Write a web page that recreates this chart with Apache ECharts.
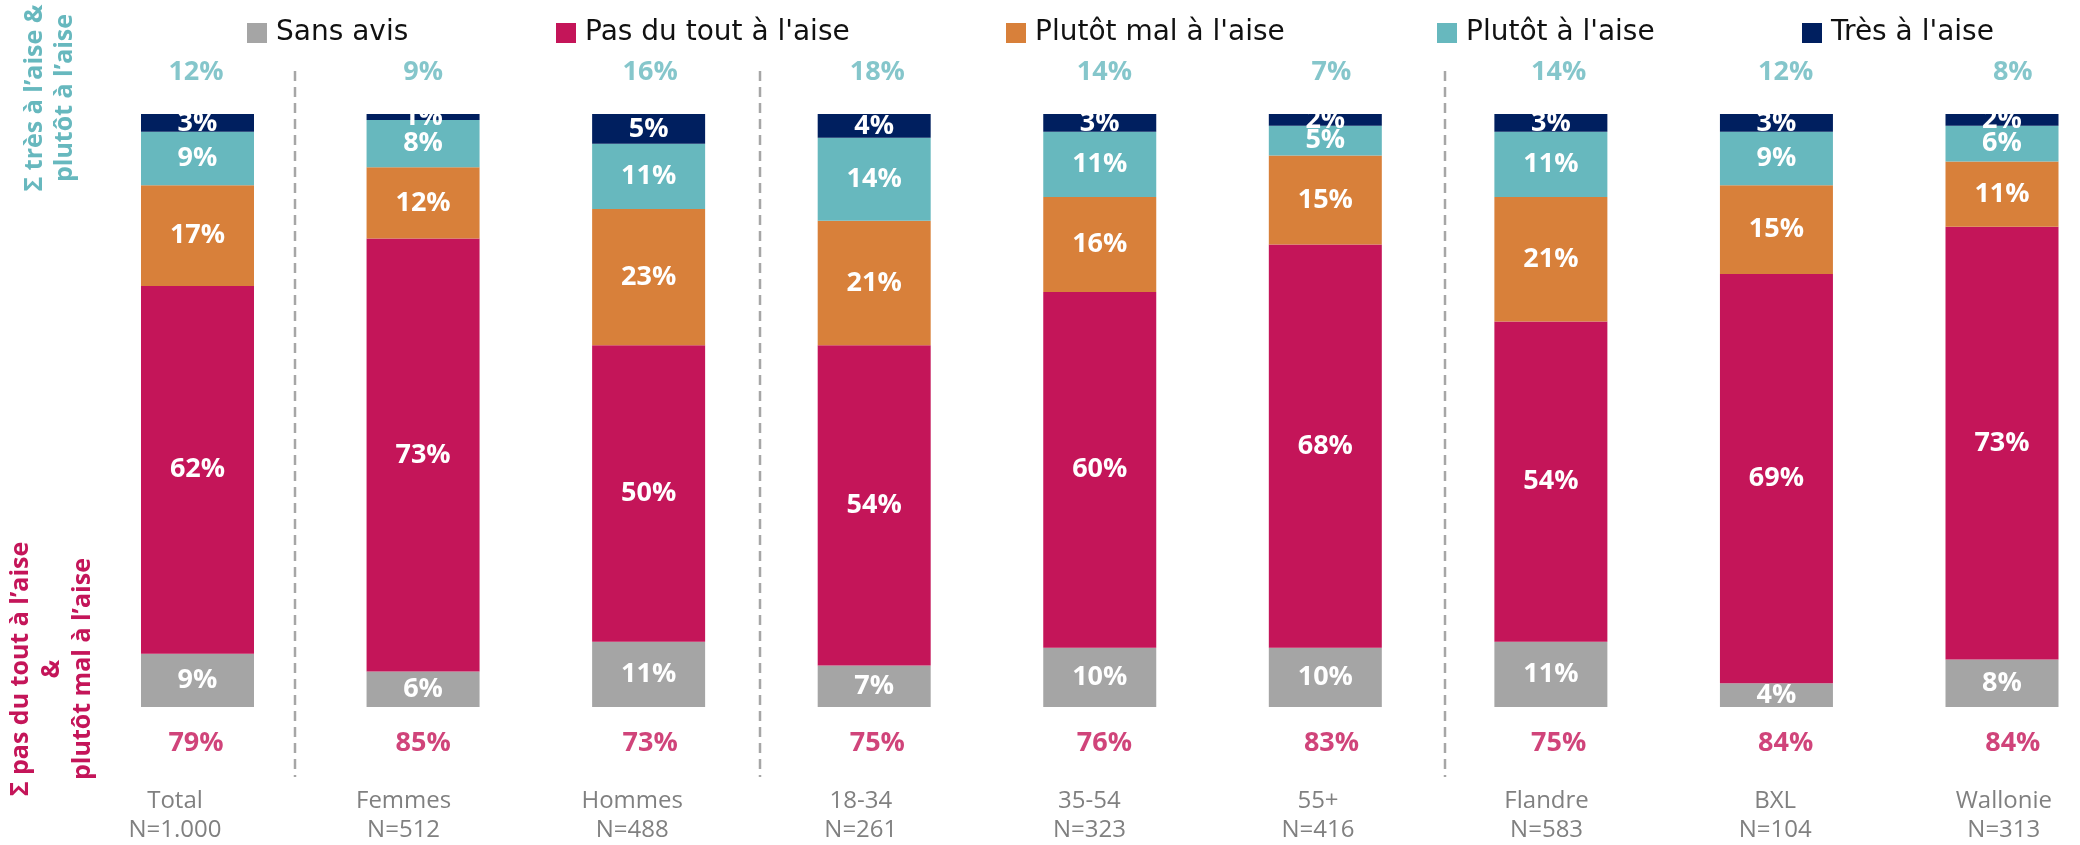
<!DOCTYPE html>
<html>
<head>
<meta charset="utf-8">
<script src="https://cdn.jsdelivr.net/npm/echarts@6/dist/echarts.min.js"></script>
<style>
html,body{margin:0;padding:0;background:#fff;}
#chart{width:2080px;height:845px;}
</style>
</head>
<body>
<div id="chart"></div>
<script>
const categories = ['Total','Femmes','Hommes','18-34','35-54','55+','Flandre','BXL','Wallonie'];
const sampleSizes = ['N=1.000','N=512','N=488','N=261','N=323','N=416','N=583','N=104','N=313'];
const seriesNames = ['Sans avis',"Pas du tout à l'aise","Plutôt mal à l'aise","Plutôt à l'aise","Très à l'aise"];
const sansAvis   = [9, 6, 11, 7, 10, 10, 11, 4, 8];
const pasDuTout  = [62, 73, 50, 54, 60, 68, 54, 69, 73];
const plutotMal  = [17, 12, 23, 21, 16, 15, 21, 15, 11];
const plutotAise = [9, 8, 11, 14, 11, 5, 11, 9, 6];
const tresAise   = [3, 1, 5, 4, 3, 2, 3, 3, 2];
const sumAise    = [12, 9, 16, 18, 14, 7, 14, 12, 8];
const sumMalAise = [79, 85, 73, 75, 76, 83, 75, 84, 84];

const colors = ['#A5A5A5', '#C41559', '#D8803A', '#67B8BE', '#001F5F'];
const TEAL = '#67B8BE', PINK = '#C41559';
const numFont = "'Open Sans', sans-serif";

const chart = echarts.init(document.getElementById('chart'), null, {renderer: 'canvas'});

const barSeriesData = [sansAvis, pasDuTout, plutotMal, plutotAise, tresAise];
const barSeries = barSeriesData.map((d, i) => ({
  name: seriesNames[i],
  type: 'bar',
  stack: 'total',
  xAxisIndex: 0, yAxisIndex: 0,
  barWidth: 113,
  clip: false,
  data: d,
  itemStyle: {color: colors[i]},
  label: {
    show: true, position: 'inside', formatter: '{c}%',
    color: '#fff', fontFamily: numFont, fontWeight: 'bold', fontSize: 27
  },
  emphasis: {disabled: true}
}));

const TOP_LABEL_VALUE = 107.1;
const BOTTOM_LABEL_VALUE = -6.1;

const sumSeries = [
  {
    type: 'scatter', xAxisIndex: 1, yAxisIndex: 1, symbolSize: 1, clip: false,
    itemStyle: {color: 'rgba(0,0,0,0)'}, silent: true,
    data: sumAise.map((v, i) => ({value: [i, TOP_LABEL_VALUE], s: v})),
    label: {show: true, position: 'inside', formatter: p => p.data.s + '%',
      color: TEAL, fontFamily: numFont, fontWeight: 'bold', fontSize: 27}
  },
  {
    type: 'scatter', xAxisIndex: 1, yAxisIndex: 1, symbolSize: 1, clip: false,
    itemStyle: {color: 'rgba(0,0,0,0)'}, silent: true,
    data: sumMalAise.map((v, i) => ({value: [i, BOTTOM_LABEL_VALUE], s: v})),
    label: {show: true, position: 'inside', formatter: p => p.data.s + '%',
      color: PINK, fontFamily: numFont, fontWeight: 'bold', fontSize: 27}
  }
];

const legendLefts = [247, 556, 1006, 1437, 1802];
const legends = seriesNames.map((n, i) => ({
  data: [n], left: legendLefts[i], top: 19, padding: 0,
  icon: 'rect', itemWidth: 20, itemHeight: 20, itemGap: 0, selectedMode: false,
  textStyle: {color: '#111', fontSize: 28, fontFamily: "'DejaVu Sans', sans-serif", padding: [0,0,0,4]}
}));

const sepXs = [295, 760, 1445];
const graphics = sepXs.map(x => ({
  type: 'line', silent: true,
  shape: {x1: x, y1: 71, x2: x, y2: 777},
  style: {stroke: '#A6A6A6', lineWidth: 2.5, lineDash: [10, 6]}
}));
graphics.push({
  type: 'text', x: 50, y: 98, rotation: Math.PI / 2, silent: true,
  style: {text: "Σ très à l\u2019aise &\nplutôt à l\u2019aise", fill: TEAL,
    font: "bold 25px 'Open Sans', sans-serif", align: 'center', verticalAlign: 'middle', lineHeight: 30}
});
graphics.push({
  type: 'text', x: 52, y: 669, rotation: Math.PI / 2, silent: true,
  style: {text: "Σ pas du tout à l\u2019aise\n&\nplutôt mal à l\u2019aise", fill: PINK,
    font: "bold 25px 'Open Sans', sans-serif", align: 'center', verticalAlign: 'middle', lineHeight: 31}
});

chart.setOption({
  animation: false,
  backgroundColor: '#fff',
  legend: legends,
  grid: [
    {left: 197.5, width: 1804.5, top: 25.05, height: 770.9},
    {left: 196, width: 1816.8, top: 25.05, height: 770.9},
    {left: 175, width: 1828.8, top: 25.05, height: 754.95}
  ],
  xAxis: [
    {type: 'category', gridIndex: 0, data: categories, boundaryGap: false, show: false},
    {type: 'category', gridIndex: 1, data: categories, boundaryGap: false, show: false},
    {type: 'category', gridIndex: 2, data: categories, boundaryGap: false,
      axisLine: {show: false}, axisTick: {show: false},
      axisLabel: {show: true, margin: 9, interval: 0,
        formatter: (v, i) => v + '\n' + sampleSizes[i],
        color: '#808080', fontSize: 24, lineHeight: 29, fontFamily: numFont}}
  ],
  yAxis: [
    {type: 'value', gridIndex: 0, min: -15, max: 115, show: false},
    {type: 'value', gridIndex: 1, min: -15, max: 115, show: false},
    {type: 'value', gridIndex: 2, min: 0, max: 100, show: false}
  ],
  series: barSeries.concat(sumSeries),
  graphic: graphics
});
</script>
</body>
</html>
